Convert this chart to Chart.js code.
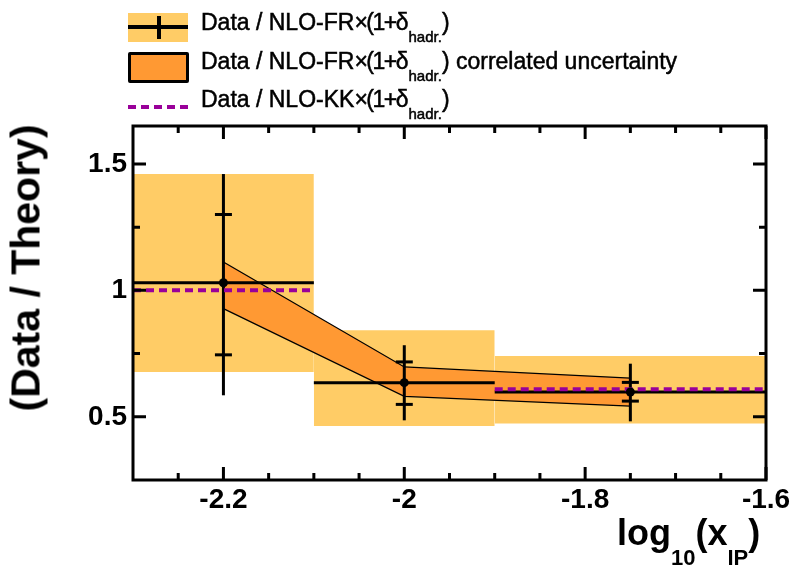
<!DOCTYPE html>
<html>
<head>
<meta charset="utf-8">
<script src="https://cdn.jsdelivr.net/npm/chart.js@4.4.1/dist/chart.umd.min.js"></script>
<style>
  html, body { margin: 0; padding: 0; background: #fff; }
  #wrap { position: relative; width: 796px; height: 565px; overflow: hidden;
          font-family: "Liberation Sans", Arial, sans-serif; }
  #c { position: absolute; left: 0; top: 0; }
  .t { position: absolute; white-space: nowrap; font-weight: bold; color: #000; line-height: 1; }
  .lg { left: 201px; font-size: 23px; font-weight: normal; -webkit-text-stroke: 0.5px #000; }
  .op { letter-spacing: -1.5px; }
  .sub15 { font-size: 15px; position: relative; top: 12px; letter-spacing: 0; }
  .sym { position: absolute; box-sizing: border-box; }
</style>
</head>
<body>
<div id="wrap">
  <canvas id="c" width="796" height="565"></canvas>

  <!-- legend symbols -->
  <div class="sym" style="left:128px; top:13px; width:60px; height:29px; background:#FFCC66;"></div>
  <div class="sym" style="left:128px; top:25px; width:60px; height:4px; background:#000;"></div>
  <div class="sym" style="left:157px; top:16px; width:4px; height:23px; background:#000;"></div>
  <div class="sym" style="left:128px; top:52px; width:61px; height:31px; background:#FF9933; border:3.5px solid #000; border-radius:2px;"></div>
  <div class="sym" style="left:128px; top:104.5px; width:60px; height:4.5px;
       background:repeating-linear-gradient(90deg,#990099 0 8px,transparent 8px 13px);"></div>

  <!-- legend labels -->
  <div class="t lg" style="top:10.5px;">Data / NLO-FR<span class="op">×(1+</span>δ<span class="sub15">hadr.</span>)</div>
  <div class="t lg" style="top:49.5px;">Data / NLO-FR<span class="op">×(1+</span>δ<span class="sub15">hadr.</span>) correlated uncertainty</div>
  <div class="t lg" style="top:87.5px;">Data / NLO-KK<span class="op">×(1+</span>δ<span class="sub15">hadr.</span>)</div>

  <!-- axis titles -->
  <div class="t" style="left:617px; top:514.5px; font-size:36px;">log<span style="font-size:22px; position:relative; top:20px;">10</span>(x<span style="font-size:22px; position:relative; top:20px;">IP</span>)</div>
  <div class="t" style="left:25.5px; top:268px; font-size:41px; transform:translate(-50%,-50%) rotate(-90deg);">(Data / Theory)</div>
</div>

<script>
// Bins in log10(x_IP)
const binLow    = [-2.3, -2.1, -1.9];
const binHigh   = [-2.1, -1.9, -1.6];
const binCenter = [-2.2, -2.0, -1.75];

// Data / NLO-FR x (1+delta_hadr.)
const ratioFR   = [1.03, 0.635, 0.598];
const statHigh  = [1.30, 0.717, 0.636];
const statLow   = [0.745, 0.549, 0.562];
const totalHigh = [1.46, 0.783, 0.71];
const totalLow  = [0.585, 0.486, 0.482];

// uncorrelated uncertainty boxes
const boxHigh   = [1.46, 0.842, 0.74];
const boxLow    = [0.677, 0.464, 0.473];

// correlated uncertainty band (at bin centres)
const corrHigh  = [1.112, 0.697, 0.653];
const corrLow   = [0.928, 0.581, 0.542];

// Data / NLO-KK x (1+delta_hadr.)
const ratioKK   = [1.0, null, 0.609];

// axis ticks
const xTickValues = [-2.2, -2.0, -1.8, -1.6];
const xTickLabels = ['-2.2', '-2', '-1.8', '-1.6'];
const xMinorTicks = [-2.25, -2.15, -2.1, -2.05, -1.95, -1.9, -1.85, -1.75, -1.7, -1.65];
const yTickValues = [0.5, 1.0, 1.5];
const yTickLabels = ['0.5', '1', '1.5'];
const yMinorTicks = [0.75, 1.25];

const YELLOW = '#FFCC66';
const ORANGE = '#FF9933';
const PURPLE = '#990099';
const NONE = 'rgba(0,0,0,0)';

// datasets are listed bottom layer first
const layers = [];
const seg = (x0, y0, x1, y1) => [{x: x0, y: y0}, {x: x1, y: y1}];

binCenter.forEach((c, i) => {
  layers.push({ data: seg(binLow[i], boxHigh[i], binHigh[i], boxHigh[i]),
                borderColor: NONE, borderWidth: 0, backgroundColor: YELLOW, fill: '+1' });
  layers.push({ data: seg(binLow[i], boxLow[i], binHigh[i], boxLow[i]),
                borderColor: NONE, borderWidth: 0, fill: false });
});

layers.push({ data: binCenter.map((c, i) => ({x: c, y: corrHigh[i]})),
              borderColor: '#000', borderWidth: 1.3, backgroundColor: ORANGE, fill: '+1' });
layers.push({ data: binCenter.map((c, i) => ({x: c, y: corrLow[i]})),
              borderColor: '#000', borderWidth: 1.3, fill: false });

binCenter.forEach((c, i) => {
  layers.push({ data: seg(binLow[i], ratioFR[i], binHigh[i], ratioFR[i]),
                borderColor: '#000', borderWidth: 3, fill: false });
  layers.push({ data: seg(c, totalLow[i], c, totalHigh[i]),
                borderColor: '#000', borderWidth: 3, fill: false });
});

layers.push({ data: binCenter.flatMap((c, i) => [{x: c, y: statHigh[i]}, {x: c, y: statLow[i]}]),
              showLine: false, pointStyle: 'line', pointRadius: 8.5,
              pointBorderColor: '#000', pointBorderWidth: 3 });

binCenter.forEach((c, i) => {
  if (ratioKK[i] === null) return;
  layers.push({ data: seg(binLow[i], ratioKK[i], binHigh[i], ratioKK[i]),
                borderColor: PURPLE, borderWidth: 4, borderDash: [8, 5], fill: false });
});

layers.push({ data: binCenter.map((c, i) => ({x: c, y: ratioFR[i]})),
              showLine: false, pointStyle: 'circle', pointRadius: 4.5,
              pointBackgroundColor: '#000', pointBorderWidth: 0 });

const datasets = layers.map((d, i) => Object.assign({
  type: 'line', tension: 0, pointRadius: 0, borderCapStyle: 'butt',
  order: layers.length - i
}, d));

// frame with inward ticks on all four sides
const frameTicks = {
  id: 'frameTicks',
  afterDatasetsDraw(chart) {
    const {ctx, chartArea: a, scales: {x, y}} = chart;
    ctx.save();
    ctx.strokeStyle = '#000';
    ctx.lineWidth = 3;
    ctx.lineCap = 'butt';
    ctx.beginPath();
    const xt = (v, len) => {
      const p = x.getPixelForValue(v);
      ctx.moveTo(p, a.bottom); ctx.lineTo(p, a.bottom - len);
      ctx.moveTo(p, a.top); ctx.lineTo(p, a.top + len);
    };
    const yt = (v, len) => {
      const p = y.getPixelForValue(v);
      ctx.moveTo(a.left, p); ctx.lineTo(a.left + len, p);
      ctx.moveTo(a.right, p); ctx.lineTo(a.right - len, p);
    };
    xTickValues.forEach(v => xt(v, 13));
    xMinorTicks.forEach(v => xt(v, 7));
    yTickValues.forEach(v => yt(v, 13));
    yMinorTicks.forEach(v => yt(v, 7));
    ctx.stroke();
    ctx.strokeRect(a.left, a.top, a.right - a.left, a.bottom - a.top);
    ctx.restore();
  }
};

const tickFont = { family: '"Liberation Sans", Arial, sans-serif', weight: 'bold', size: 28 };

new Chart(document.getElementById('c'), {
  type: 'line',
  data: { datasets },
  options: {
    responsive: false,
    animation: false,
    events: [],
    layout: { padding: { top: 126, right: 30, left: 0, bottom: 0 } },
    plugins: { legend: { display: false }, tooltip: { enabled: false } },
    scales: {
      x: {
        type: 'linear', min: -2.3, max: -1.6,
        grid: { display: false, drawTicks: false }, border: { display: false },
        afterBuildTicks: s => { s.ticks = xTickValues.map(v => ({ value: v })); },
        afterFit: s => { s.height = 85; },
        ticks: { font: tickFont, color: '#000', padding: 3, maxRotation: 0, autoSkip: false,
                 callback: (v, i) => xTickLabels[i] }
      },
      y: {
        type: 'linear', min: 0.25, max: 1.65,
        grid: { display: false, drawTicks: false }, border: { display: false },
        afterBuildTicks: s => { s.ticks = yTickValues.map(v => ({ value: v })); },
        afterFit: s => { s.width = 133; },
        ticks: { font: tickFont, color: '#000', padding: 6, autoSkip: false,
                 callback: (v, i) => yTickLabels[i] }
      }
    }
  },
  plugins: [frameTicks]
});
</script>
</body>
</html>
